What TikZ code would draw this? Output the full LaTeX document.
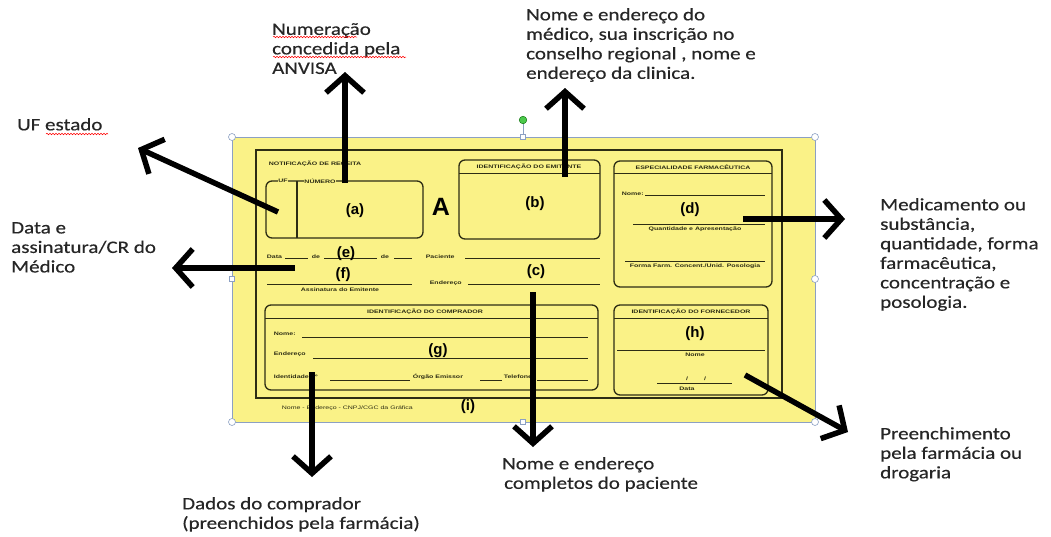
\documentclass[tikz,border=0pt]{standalone}
\usepackage{fontspec}
\usetikzlibrary{arrows.meta,decorations.pathmorphing}
\setmainfont{Carlito}
\newfontfamily\labf[FakeStretch=1.2, FakeBold=0.4]{Carlito}
\newfontfamily\frmf{Liberation Sans}
\newfontfamily\frmw[FakeStretch=1.4]{Liberation Sans}
\definecolor{paper}{RGB}{250,242,135}
\definecolor{ink}{RGB}{45,45,20}
\definecolor{txt}{RGB}{38,38,38}
\definecolor{hdl}{RGB}{140,160,195}
\tikzset{
  lab/.style={font=\labf\fontsize{17.5}{19.5}\selectfont, text=txt, align=left, inner sep=0pt, anchor=north west},
  bigarrow/.style={line width=5.5pt, draw=black, -{Straight Barb[length=17pt,width=38pt]}},
  frm/.style={draw=ink, line width=1.3pt, rounded corners=6pt},
  fl/.style={draw=ink, line width=0.9pt},
  tiny/.style={font=\frmw\bfseries\fontsize{5}{6}\selectfont, text=ink, inner sep=0.6pt},
  letter/.style={font=\frmf\bfseries\fontsize{15}{17}\selectfont, text=black, inner sep=0pt},
  handle/.style={draw=hdl, fill=white, line width=0.6pt},
  spell/.style={draw=red, line width=0.5pt, decorate, decoration={snake, amplitude=0.8pt, segment length=3pt}}
}
\begin{document}
\begin{tikzpicture}[x=1pt,y=-1pt]
\useasboundingbox (0,0) rectangle (1051,536);
% pasted form image
\fill[paper] (232,137) rectangle (815,422);
\draw[hdl, line width=0.7pt] (232,137) rectangle (815,422);
\draw[fl, line width=1.4pt] (256,150) rectangle (782,398);
\node[tiny, anchor=west] (tit) at (268,164) {NOTIFICAÇÃO DE RECEITA};
% box a
\draw[frm] (266,181) rectangle (423,238);
\draw[fl, line width=1.3pt] (297,181) -- (297,238);
\node[tiny, fill=paper] (uf) at (283,181) {UF};
\node[tiny, fill=paper] (num) at (320,181) {NÚMERO};
\node[letter] (la) at (355,211) {(a)};
\node[font=\frmf\bfseries\fontsize{25}{27}\selectfont, inner sep=0pt] (bigA) at (441,207) {A};
% box b
\draw[frm] (459,160) rectangle (600,239);
\draw[fl] (459,173) -- (600,173);
\node[tiny] (hb) at (529,167) {IDENTIFICAÇÃO DO EMITENTE};
\node[letter] (lb) at (535,204) {(b)};
% box d
\draw[frm] (614,161) rectangle (772,287);
\draw[fl] (614,173) -- (772,173);
\node[tiny] (hd) at (693,167) {ESPECIALIDADE FARMACÊUTICA};
\node[tiny, anchor=west] (dnome) at (621,194) {Nome:};
\draw[fl] (645,195) -- (765,195);
\node[letter] (ld) at (690,210) {(d)};
\draw[fl] (633,224) -- (765,224);
\node[tiny] (dq) at (695,229) {Quantidade e Apresentação};
\draw[fl] (625,261) -- (765,261);
\node[tiny] (dff) at (695,266) {Forma Farm. Concent./Unid. Posologia};
% data row
\node[tiny, anchor=west] (data) at (266,257) {Data};
\draw[fl] (285,258) -- (308,258);
\node[tiny] (de1) at (316,257) {de};
\draw[fl] (324,258) -- (377,258);
\node[tiny] (de2) at (385,257) {de};
\draw[fl] (394,258) -- (412,258);
\node[tiny, anchor=west] (pac) at (425,257) {Paciente};
\draw[fl] (465,258) -- (600,258);
\node[letter] (le) at (346,254) {(e)};
\node[letter] (lf) at (343,275) {(f)};
\draw[fl] (267,284) -- (412,284);
\node[tiny] (ass) at (340,290) {Assinatura do Emitente};
\node[tiny, anchor=west] (end) at (429,283) {Endereço};
\draw[fl] (468,284) -- (600,284);
\node[letter] (lc) at (536,272) {(c)};
% box g
\draw[frm] (265,305) rectangle (598,390);
\draw[fl] (265,318) -- (598,318);
\node[tiny] (hg) at (425,312) {IDENTIFICAÇÃO DO COMPRADOR};
\node[tiny, anchor=west] (gnome) at (273,334) {Nome:};
\draw[fl] (302,337) -- (588,337);
\node[tiny, anchor=west] (gend) at (273,354) {Endereço};
\draw[fl] (313,358) -- (588,358);
\node[letter] (lg) at (438,351) {(g)};
\node[tiny, anchor=west] (gid) at (273,377) {Identidade nº};
\draw[fl] (330,380) -- (410,380);
\node[tiny, anchor=west] (gorg) at (412,377) {Órgão Emissor};
\draw[fl] (480,380) -- (502,380);
\node[tiny, anchor=west] (gtel) at (503,377) {Telefone};
\draw[fl] (537,380) -- (588,380);
% box h
\draw[frm] (614,305) rectangle (768,395);
\draw[fl] (614,318) -- (768,318);
\node[tiny] (hh) at (691,312) {IDENTIFICAÇÃO DO FORNECEDOR};
\node[letter] (lh) at (695,334) {(h)};
\draw[fl] (617,350) -- (765,350);
\node[tiny] (hnome) at (695,355) {Nome};
\draw[fl] (657,383) -- (732,383);
\node[tiny] (sl) at (696,379) {/\hspace{16pt}/};
\node[tiny] (hdata) at (687,389) {Data};
% footer
\node[tiny, font=\frmw\fontsize{5}{6}\selectfont, anchor=west] (foot) at (281,408) {Nome - Endereço - CNPJ/CGC da Gráfica};
\node[letter] (li) at (468,407) {(i)};
% selection handles
\draw[hdl, line width=0.7pt] (523,121) -- (523,134);
\fill[green!70!black!70, draw=green!40!black] (523,120) circle (3.8);
\foreach \p in {(232,137),(815,137),(232,422),(815,422),(815,279)}
  \draw[handle] \p circle (3.5);
\draw[handle] (229.5,276.5) rectangle (234.5,281.5);
\draw[handle] (520.5,134.5) rectangle (525.5,139.5);
\draw[handle] (520.5,419.5) rectangle (525.5,424.5);
% labels
\node[lab] (tnum) at (272,23) {Numeração\\concedida pela\\ANVISA};
\node[lab] (tmed) at (526,8) {Nome e endereço do\\médico, sua inscrição no\\conselho regional , nome e\\endereço da clinica.};
\node[lab] (tuf) at (17,118) {UF estado};
\node[lab] (tdata) at (11,222) {Data e\\assinatura/CR do\\Médico};
\node[lab] (tmedic) at (880,198) {Medicamento ou\\substância,\\quantidade, forma\\farmacêutica,\\concentração e\\posologia.};
\node[lab] (tpre) at (880,427) {Preenchimento\\pela farmácia ou\\drogaria};
\node[lab] (tpac) at (502,457) {Nome e endereço\\\hspace*{2pt}completos do paciente};
\node[lab] (tcomp) at (182,497) {Dados do comprador\\(preenchidos pela farmácia)};
% spell-check underlines
\draw[spell] (273,37) -- (357,37);
\draw[spell] (273,57) -- (406,57);
\draw[spell] (46,134) -- (108,134);
% arrow anchors
\coordinate (sa) at (345,183); \coordinate (ea) at (345,72);
\coordinate (suf) at (278,212); \coordinate (euf) at (138,148);
\coordinate (sdt) at (295,268); \coordinate (edt) at (172,268);
\coordinate (sb) at (565,177); \coordinate (eb) at (565,88);
\coordinate (sd) at (743,219); \coordinate (ed) at (845,219);
\coordinate (sc) at (533,292); \coordinate (ec) at (533,447);
\coordinate (sg) at (312,372); \coordinate (eg) at (312,477);
\coordinate (sh) at (745,375); \coordinate (eh) at (848,432);
\draw[bigarrow] (sa) -- (ea);
\draw[bigarrow] (suf) -- (euf);
\draw[bigarrow] (sdt) -- (edt);
\draw[bigarrow] (sb) -- (eb);
\draw[bigarrow] (sd) -- (ed);
\draw[bigarrow] (sc) -- (ec);
\draw[bigarrow] (sg) -- (eg);
\draw[bigarrow] (sh) -- (eh);
\end{tikzpicture}
\end{document}
